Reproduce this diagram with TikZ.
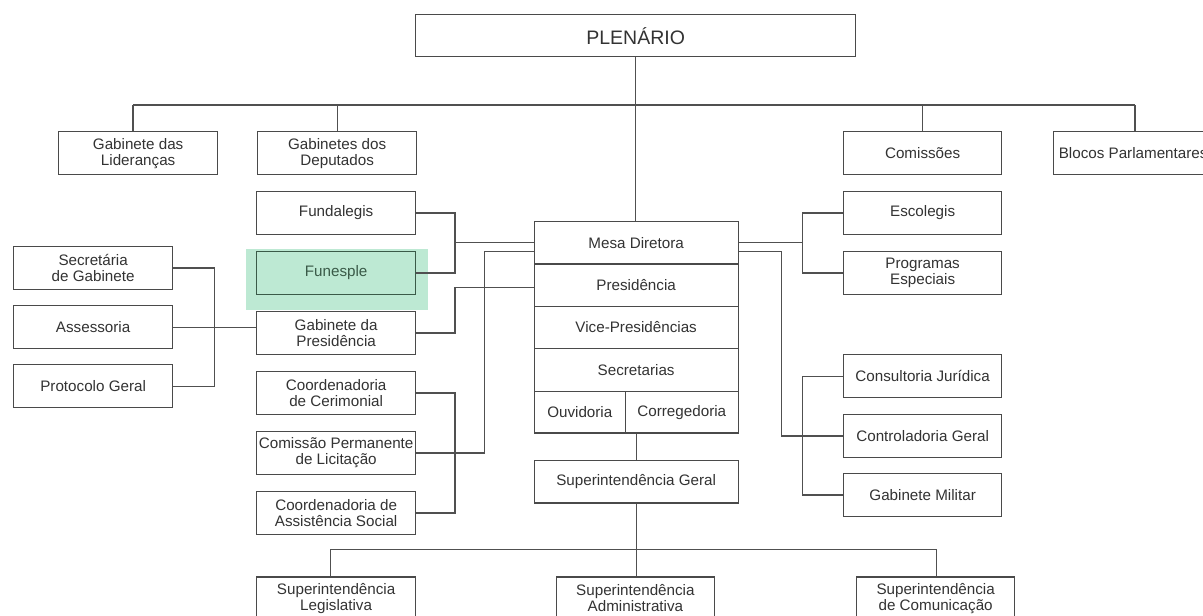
\documentclass[tikz,border=0pt]{standalone}
\usepackage{fontspec}
\setmainfont{Liberation Sans}
\definecolor{boxc}{HTML}{4A4A4A}
\definecolor{linec}{HTML}{505050}
\definecolor{txtc}{HTML}{333333}
\definecolor{greenhl}{HTML}{BDE9D3}
\definecolor{greendk}{HTML}{3A5A48}
\tikzset{
  box/.style={draw=boxc, line width=1.3pt, fill=white, text=txtc, inner sep=0pt,
    align=center, anchor=north west, minimum width=159pt, minimum height=42.5pt,
    font=\fontsize{15.2}{16}\selectfont},
  hbox/.style={box, fill=none, draw=greendk, text=greendk},
  conn/.style={draw=linec, line width=1.3pt},
}
\begin{document}
\begin{tikzpicture}[x=1pt,y=-1pt]
\useasboundingbox (0,0) rectangle (1203,616);
\clip (0,0) rectangle (1203,616);
\fill[white] (0,0) rectangle (1203,616);
% highlight
\fill[greenhl] (246,249) rectangle (428,310);

% bracket x positions
\coordinate (xA) at (455,0);
\coordinate (xB) at (484.3,0);
\coordinate (xC) at (781.7,0);
\coordinate (xD) at (802.5,0);
\coordinate (xE) at (214.3,0);
\coordinate (barL) at (133,105);
\coordinate (barR) at (1135,105);
\coordinate (bbL) at (330.3,549.7);
\coordinate (bbR) at (936.8,549.7);

% nodes
\node[box, minimum width=440pt, minimum height=42pt, font=\fontsize{19.5}{21}\selectfont] (plen) at (415,14) {PLENÁRIO};

\node[box, minimum height=43pt] (lid) at (58,131) {Gabinete das\\Lideranças};
\node[box, minimum height=43pt] (dep) at (257,131) {Gabinetes dos\\Deputados};
\node[box, minimum width=158pt, minimum height=43pt] (com) at (843,131) {Comissões};
\node[box, minimum height=43pt] (blo) at (1053,131) {Blocos Parlamentares};

\node[box] (fund) at (256,191) {Fundalegis};
\node[hbox] (fun) at (256,251) {Funesple};
\node[box] (gp) at (256,311) {Gabinete da\\Presidência};
\node[box] (cer) at (256,371) {Coordenadoria\\de Cerimonial};
\node[box] (cpl) at (256,431) {Comissão Permanente\\de Licitação};
\node[box] (cas) at (256,491) {Coordenadoria de\\Assistência Social};

\node[box] (sec) at (13,246) {Secretária\\de Gabinete};
\node[box, minimum height=43pt] (ass) at (13,305) {Assessoria};
\node[box, minimum height=43pt] (pro) at (13,364) {Protocolo Geral};

\node[box, minimum width=158pt] (esc) at (843,191) {Escolegis};
\node[box, minimum width=158pt] (prog) at (843,251) {Programas\\Especiais};
\node[box, minimum width=158pt, minimum height=43pt] (cons) at (843,354) {Consultoria Jurídica};
\node[box, minimum width=158pt] (ctrl) at (843,414) {Controladoria Geral};
\node[box, minimum width=158pt] (mil) at (843,473) {Gabinete Militar};

\node[box, minimum width=204pt, minimum height=42.3pt] (mesa) at (533.5,221) {Mesa Diretora};
\node[box, minimum width=204pt, minimum height=42.3pt] (pres) at (533.5,263.3) {Presidência};
\node[box, minimum width=204pt, minimum height=42.3pt] (vice) at (533.5,305.7) {Vice-Presidências};
\node[box, minimum width=204pt, minimum height=42.7pt] (secr) at (533.5,348) {Secretarias};
\node[box, minimum width=91.3pt, minimum height=41.6pt] (ouv) at (533.5,390.7) {Ouvidoria};
\node[box, minimum width=112.7pt, minimum height=41.6pt] (corr) at (624.8,390.7) {Corregedoria};

\node[box, minimum width=204pt, minimum height=42.3pt] (sg) at (533.5,460) {Superintendência Geral};

\node[box, minimum height=42.5pt] (sl) at (256,576.3) {Superintendência\\Legislativa};
\node[box, minimum width=158.5pt, minimum height=42.5pt] (sa) at (555.5,576.3) {Superintendência\\Administrativa};
\node[box, minimum width=158pt, minimum height=42.5pt] (sc) at (856,576.3) {Superintendência\\de Comunicação};

% connection points offset from centres
\coordinate (presIn) at ([yshift=-2.5pt]pres.west);
\coordinate (mesaWlo) at ([yshift=-8.5pt]mesa.west);
\coordinate (mesaElo) at ([yshift=-8.5pt]mesa.east);

% connectors: top
\draw[conn] (plen.south) -- (plen.south |- mesa.north);
\draw[conn] (barL) -- (barR);
\draw[conn] (barL) -- (barL |- lid.north);
\draw[conn] (dep.north |- barL) -- (dep.north);
\draw[conn] (com.north |- barL) -- (com.north);
\draw[conn] (barR) -- (barR |- blo.north);

% left side
\draw[conn] (fund.east) -| (xA |- fun.east) -- (fun.east);
\draw[conn] (mesa.west) -- (mesa.west -| xA);
\draw[conn] (gp.east) -| (xA |- presIn) -- (presIn);
\draw[conn] (mesaWlo) -| (xB |- cpl.east) -- (cpl.east);
\draw[conn] (cer.east) -| (xA |- cas.east) -- (cas.east);
\draw[conn] (ass.east) -- (ass.east -| gp.west);
\draw[conn] (sec.east) -| (xE |- pro.east) -- (pro.east);

% right side
\draw[conn] (mesa.east) -- (mesa.east -| xD);
\draw[conn] (esc.west) -| (xD |- prog.west) -- (prog.west);
\draw[conn] (mesaElo) -| (xC |- ctrl.west) -- (ctrl.west);
\draw[conn] (cons.west) -| (xD |- mil.west) -- (mil.west);

% bottom
\draw[conn] (sg.north |- ouv.south) -- (sg.north);
\draw[conn] (sg.south) -- (sg.south |- sa.north);
\draw[conn] (bbL) -- (bbR);
\draw[conn] (bbL) -- (bbL |- sl.north);
\draw[conn] (bbR) -- (bbR |- sc.north);
\end{tikzpicture}
\end{document}
